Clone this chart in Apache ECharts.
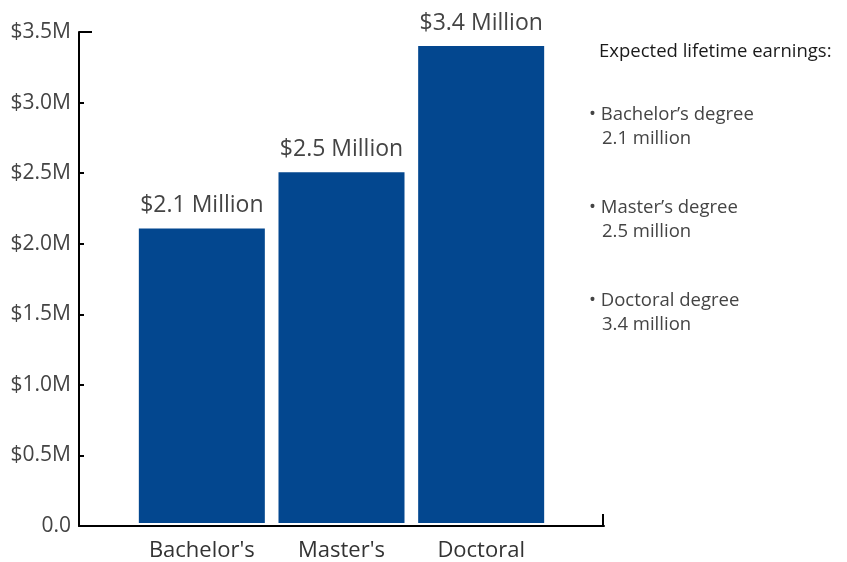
<!DOCTYPE html>
<html>
<head>
<meta charset="utf-8">
<script src="https://cdn.jsdelivr.net/npm/echarts@6/dist/echarts.min.js"></script>
<style>html,body{margin:0;padding:0;background:#fff}#c{width:847px;height:562px}</style>
</head>
<body>
<div id="c"></div>
<script>
const categories = ["Bachelor's", "Master's", "Doctoral"];
const values = [2.1, 2.5, 3.4];
const barLabels = ["$2.1 Million", "$2.5 Million", "$3.4 Million"];
const yTicks = [0, 0.5, 1.0, 1.5, 2.0, 2.5, 3.0, 3.5];
const legendTitle = "Expected lifetime earnings:";
const legendNames = ["Bachelor\u2019s degree", "Master\u2019s degree", "Doctoral degree"];
const legendValues = ["2.1 million", "2.5 million", "3.4 million"];

const FONT = "'Open Sans', 'Noto Sans', sans-serif";
const chart = echarts.init(document.getElementById('c'), null, {renderer: 'canvas'});

const graphics = [
  {type: 'text', left: 599, top: 42, style: {text: legendTitle, fill: '#1a1a1a', font: '18.5px ' + FONT}}
];
legendNames.forEach((n, i) => {
  graphics.push({type: 'text', left: 589, top: 105 + i * 93, style: {text: '\u2022 ' + n, fill: '#444', font: '18.5px ' + FONT}});
  graphics.push({type: 'text', left: 602, top: 129 + i * 93, style: {text: legendValues[i], fill: '#444', font: '18.5px ' + FONT}});
});
// axis end caps
graphics.push({type: 'line', shape: {x1: 79, y1: 32, x2: 92, y2: 32}, style: {stroke: '#000', lineWidth: 2}});
graphics.push({type: 'line', shape: {x1: 603, y1: 514, x2: 603, y2: 527}, style: {stroke: '#000', lineWidth: 2}});

chart.setOption({
  animation: false,
  backgroundColor: '#fff',
  grid: [
    {left: 79, right: 243, top: 32, bottom: 36},
    {left: 132, right: 296, top: 32, bottom: 36}
  ],
  xAxis: [
    {gridIndex: 0, type: 'category', data: [''], axisLine: {lineStyle: {color: '#000', width: 2}}, axisTick: {show: false}, axisLabel: {show: false}},
    {gridIndex: 1, type: 'category', data: categories, axisLine: {show: false}, axisTick: {show: false},
     axisLabel: {interval: 0, hideOverlap: false, color: '#333', fontSize: 22, fontFamily: FONT, margin: 17}}
  ],
  yAxis: [
    {gridIndex: 0, type: 'value', min: 0, max: 3.5, interval: 0.5,
     axisLine: {show: true, lineStyle: {color: '#000', width: 2}},
     axisTick: {show: true, inside: true, length: 5, lineStyle: {color: '#000', width: 2}},
     splitLine: {show: false},
     axisLabel: {color: '#444', fontSize: 21, fontFamily: FONT, margin: 8,
       formatter: v => v === 0 ? '0.0' : '$' + v.toFixed(1) + 'M'}},
    {gridIndex: 1, type: 'value', min: 0, max: 3.5, interval: 0.5, show: false}
  ],
  series: [{
    type: 'bar', xAxisIndex: 1, yAxisIndex: 1,
    data: values, barWidth: 126,
    itemStyle: {color: '#03478f'},
    label: {show: true, position: 'top', distance: 11, color: '#444', fontSize: 23, fontFamily: FONT,
      formatter: p => barLabels[p.dataIndex]}
  }],
  graphic: graphics
});
</script>
</body>
</html>
